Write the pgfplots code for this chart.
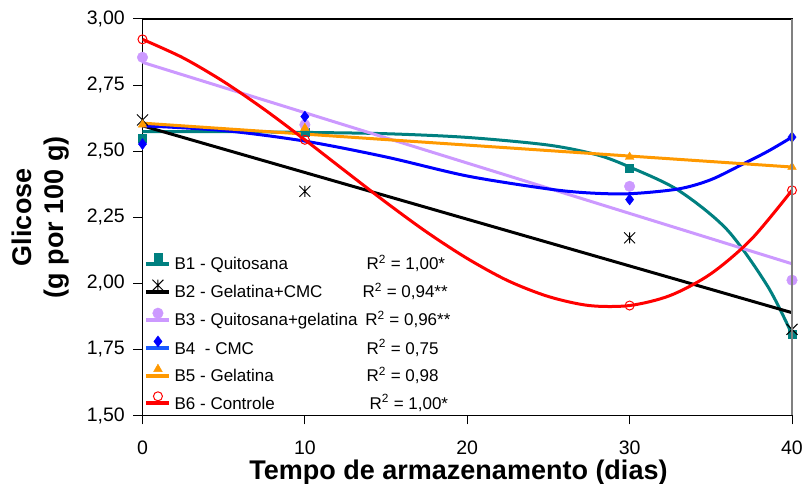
\documentclass[border=0pt]{standalone}
\usepackage{fontspec}
\setmainfont{Liberation Sans}
\usepackage{pgfplots}
\pgfplotsset{compat=1.18}

\definecolor{cteal}{RGB}{0,128,128}
\definecolor{clilac}{RGB}{204,153,255}
\definecolor{cblue}{RGB}{0,0,255}
\definecolor{cblueleg}{RGB}{26,90,255}
\definecolor{corange}{RGB}{255,153,0}
\definecolor{cred}{RGB}{255,0,0}

% star mark: an X crossed by a vertical stroke
\pgfdeclareplotmark{xstar}{%
  \pgfpathmoveto{\pgfqpoint{-\pgfplotmarksize}{-\pgfplotmarksize}}%
  \pgfpathlineto{\pgfqpoint{\pgfplotmarksize}{\pgfplotmarksize}}%
  \pgfpathmoveto{\pgfqpoint{-\pgfplotmarksize}{\pgfplotmarksize}}%
  \pgfpathlineto{\pgfqpoint{\pgfplotmarksize}{-\pgfplotmarksize}}%
  \pgfpathmoveto{\pgfqpoint{0pt}{-\pgfplotmarksize}}%
  \pgfpathlineto{\pgfqpoint{0pt}{\pgfplotmarksize}}%
  \pgfusepathqstroke}

\pgfplotsset{
  lgd/.style={legend image code/.code={%
      \draw[mark=none,line width=4pt,#1] (0pt,1.2pt) -- (23pt,1.2pt);
      \draw plot coordinates {(11.5pt,7.7pt)};
      \path (28pt,0pt);}},
  trend/.style={line width=3pt, smooth, forget plot, mark=none},
}

\begin{document}
\begin{tikzpicture}
\begin{axis}[
  at={(0,0)}, anchor=south west,
  scale only axis, width=649.5pt, height=396.5pt,
  xmin=0, xmax=40, ymin=1.5, ymax=3,
  xtick={0,10,20,30,40},
  ytick={1.5,1.75,2,2.25,2.5,2.75,3},
  tick pos=left, tick align=outside, major tick length=9pt,
  tick style={black, line width=1pt},
  axis line style={black, line width=1.2pt},
  /pgf/number format/assume math mode=true,
  tick label style={font=\fontsize{19.5}{22}\selectfont},
  yticklabel style={anchor=east, inner sep=0pt, xshift=-8.5pt,
    /pgf/number format/.cd, fixed, fixed zerofill, precision=2, use comma},
  xticklabel style={anchor=north, inner sep=0pt, yshift=-16pt},
  xlabel={Tempo de armazenamento (dias)},
  xlabel style={font=\bfseries\fontsize{27}{32}\selectfont, inner sep=0pt,
    at={(axis description cs:0.48653,-0.1602)}, anchor=base},
  ylabel={Glicose\\(g por 100 g)},
  ylabel style={font=\bfseries\fontsize{27}{32}\selectfont, inner sep=0pt,
    align=center, at={(axis description cs:-0.15627,0.5)}, anchor=center},
  legend cell align=left,
  legend style={draw=none, fill=none, inner sep=0pt, outer sep=0pt,
    at={(axis description cs:0.003,0.4098)}, anchor=north west,
    font=\fontsize{17}{20}\selectfont, row sep=6pt,
    nodes={inner sep=0pt, text height=14pt, text depth=4pt}},
]

% fitted trend lines
\addplot[trend, cteal] coordinates {
  (0,2.574) (5,2.574) (10,2.571) (15,2.566) (20,2.552) (25,2.523)
  (28,2.486) (30,2.440) (33,2.352) (36,2.203) (38.5,1.989) (40,1.807)};
\addplot[trend, black, smooth=false] coordinates {(0,2.596) (40,1.889)};
\addplot[trend, clilac, smooth=false] coordinates {(0,2.836) (40,2.074)};
\addplot[trend, cblue] coordinates {
  (0,2.596) (5,2.578) (10,2.538) (15,2.478) (20,2.406) (25,2.357)
  (27.5,2.342) (30,2.339) (33,2.357) (35,2.392) (37,2.452) (38.5,2.499) (40,2.553)};
\addplot[trend, corange, smooth=false] coordinates {(0,2.606) (40,2.440)};
\addplot[trend, cred] coordinates {
  (0,2.923) (2.5,2.853) (5,2.763) (7.5,2.658) (10,2.543) (12.5,2.424)
  (15,2.306) (17.5,2.194) (20,2.094) (22.5,2.010) (25,1.950) (27.5,1.916)
  (30,1.916) (32.5,1.954) (35,2.036) (37.5,2.167) (40,2.352)};

% measured values
\addplot[only marks, color=cteal, mark=square*, mark size=4pt, lgd={}]
  coordinates {(0,2.549) (10,2.571) (30,2.437) (40,1.807)};
\addlegendentry{\makebox[192pt][l]{B1 - Quitosana}R\textsuperscript{2} = 1,00*}
\addplot[only marks, color=black, mark=xstar, mark size=5.5pt,
  mark options={line width=1pt}, lgd={}]
  coordinates {(0,2.618) (10,2.348) (30,2.172) (40,1.826)};
\addlegendentry{\makebox[188pt][l]{B2 - Gelatina+CMC}R\textsuperscript{2} = 0,94**}
\addplot[only marks, color=clilac, mark=*, mark size=5.3pt, lgd={}]
  coordinates {(0,2.855) (10,2.600) (30,2.367) (40,2.012)};
\addlegendentry{\makebox[190.7pt][l]{B3 - Quitosana+gelatina}R\textsuperscript{2} = 0,96**}
\addplot[only marks, color=cblue, mark=diamond*, mark size=5.5pt, lgd={cblueleg}]
  coordinates {(0,2.527) (10,2.631) (30,2.317) (40,2.553)};
\addlegendentry{\makebox[192pt][l]{B4\ \ - CMC}R\textsuperscript{2} = 0,75}
\addplot[only marks, color=corange, mark=triangle*, mark size=5pt, lgd={}]
  coordinates {(0,2.600) (10,2.587) (30,2.478) (40,2.440)};
\addlegendentry{\makebox[192pt][l]{B5 - Gelatina}R\textsuperscript{2} = 0,98}
\addplot[only marks, color=cred, mark=o, mark size=4.5pt,
  mark options={line width=1pt}, lgd={}]
  coordinates {(0,2.923) (10,2.543) (30,1.916) (40,2.352)};
\addlegendentry{\makebox[195pt][l]{B6 - Controle}R\textsuperscript{2} = 1,00*}

\end{axis}
\draw[color=gray, line width=1.5pt] (current axis.south east) -- (current axis.north east);
\pgfresetboundingbox
\path[use as bounding box] (-142.5pt,-68.5pt) rectangle (664.5pt,415.5pt);
\end{tikzpicture}
\end{document}
